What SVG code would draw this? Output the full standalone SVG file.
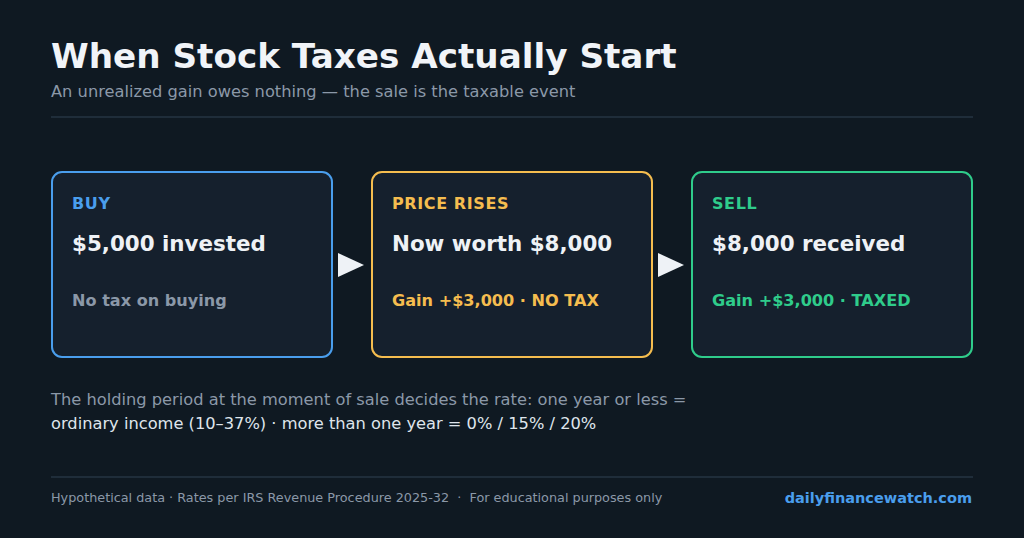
<svg xmlns="http://www.w3.org/2000/svg" width="1024" height="538" viewBox="0 0 1024 538">
<style>
text{font-family:"DejaVu Sans",sans-serif}
.box{fill:#15202d;stroke-width:2}
.lbl{font-size:16px;font-weight:bold;letter-spacing:0.6px}
.main{font-size:21.4px;font-weight:bold;fill:#eef2f6}
.sub{font-size:16.1px;font-weight:bold}
</style>
<rect width="1024" height="538" fill="#0f1922"/>
<text x="51" y="68" font-size="34.2" font-weight="bold" fill="#f1f4f8">When Stock Taxes Actually Start</text>
<text x="51" y="97" font-size="16.25" fill="#8b98a8">An unrealized gain owes nothing — the sale is the taxable event</text>
<line x1="51" y1="117" x2="973" y2="117" stroke="#1f2d3a" stroke-width="2"/>
<g id="buy">
<rect class="box" x="52" y="172" width="280" height="185" rx="10" stroke="#4a9eed"/>
<text class="lbl" x="72" y="209" fill="#4a9eed">BUY</text>
<text class="main" x="72" y="251">$5,000 invested</text>
<text class="sub" x="72" y="306" fill="#8b98a8">No tax on buying</text>
</g>
<g id="rises">
<rect class="box" x="372" y="172" width="280" height="185" rx="10" stroke="#f5bd4f"/>
<text class="lbl" x="392" y="209" fill="#f5bd4f">PRICE RISES</text>
<text class="main" x="392" y="251">Now worth $8,000</text>
<text class="sub" x="392" y="306" fill="#f5bd4f">Gain +$3,000 · NO TAX</text>
</g>
<g id="sell">
<rect class="box" x="692" y="172" width="280" height="185" rx="10" stroke="#2fcc8b"/>
<text class="lbl" x="712" y="209" fill="#2fcc8b">SELL</text>
<text class="main" x="712" y="251">$8,000 received</text>
<text class="sub" x="712" y="306" fill="#2fcc8b">Gain +$3,000 · TAXED</text>
</g>
<g id="connectors" fill="#eef2f6">
<polygon points="338,253 364,265 338,277"/>
<polygon points="658,253 684,265 658,277"/>
</g>
<text x="51" y="405" font-size="16.25" fill="#8b98a8">The holding period at the moment of sale decides the rate: one year or less =</text>
<text x="51" y="429" font-size="16.25" fill="#dfe5ec">ordinary income (10–37%) · more than one year = 0% / 15% / 20%</text>
<line x1="51" y1="477" x2="973" y2="477" stroke="#1f2d3a" stroke-width="2"/>
<text x="51" y="502" font-size="12.8" fill="#8b98a8" xml:space="preserve">Hypothetical data · Rates per IRS Revenue Procedure 2025-32  ·  For educational purposes only</text>
<text x="972" y="503" font-size="14.5" font-weight="bold" fill="#4a9eed" text-anchor="end">dailyfinancewatch.com</text>
</svg>
